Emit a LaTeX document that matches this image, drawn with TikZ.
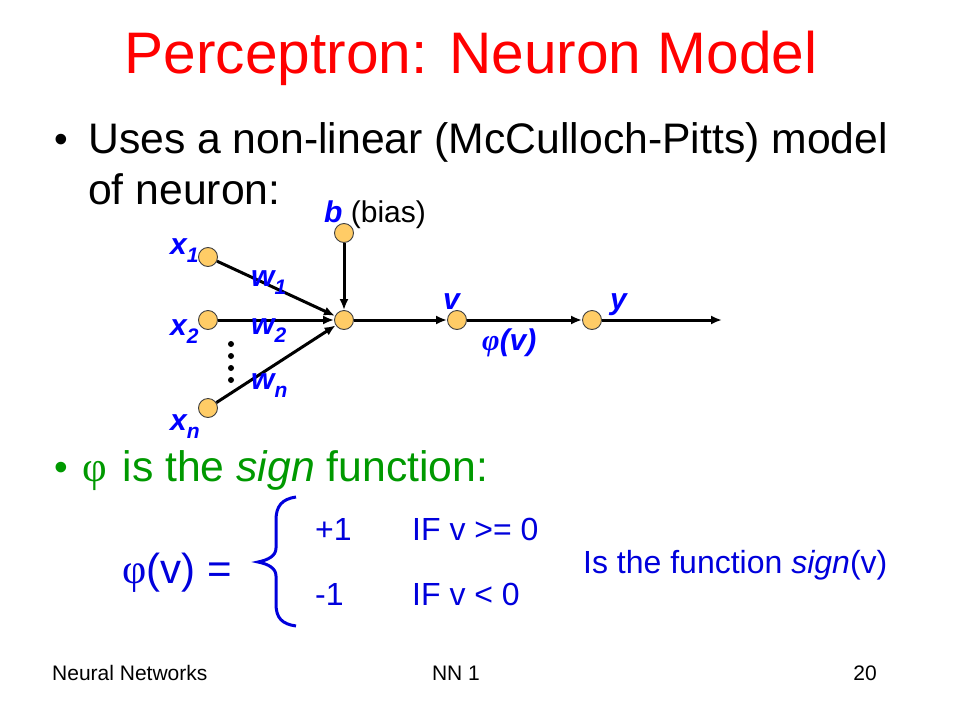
\documentclass[tikz,border=0pt]{standalone}
\usepackage{fontspec}
\setmainfont{Liberation Sans}
\newfontfamily\greekfont{Liberation Serif}
\usetikzlibrary{arrows.meta}
\definecolor{titlered}{RGB}{255,0,0}
\definecolor{bulletgreen}{RGB}{0,153,0}
\definecolor{labblue}{RGB}{0,0,255}
\definecolor{formblue}{RGB}{0,0,220}
\definecolor{unitfill}{RGB}{255,204,102}
\newcommand\sublab[2]{#1\raisebox{-8pt}{\fontsize{21}{21}\selectfont #2}}
\tikzset{
  unit/.style={circle, draw=black!75, line width=0.9pt, fill=unitfill, minimum size=19pt, inner sep=0pt},
  link/.style={line width=3pt, -{Latex[length=11pt,width=9pt]}},
  lab/.style={text=labblue, font=\fontsize{30}{30}\selectfont\bfseries\itshape, anchor=base west, inner sep=0pt},
  body/.style={font=\fontsize{42.7}{44}\selectfont, anchor=base west, inner sep=0pt},
  bul/.style={font=\fontsize{39}{39}\selectfont, anchor=base west, inner sep=0pt},
  formula/.style={text=formblue, font=\fontsize{32}{32}\selectfont, anchor=base west, inner sep=0pt},
  foot/.style={font=\fontsize{21}{21}\selectfont, anchor=base west, inner sep=0pt}
}
\begin{document}
\begin{tikzpicture}[x=1pt,y=-1pt]
  \fill[white] (0,0) rectangle (960,720);
  \useasboundingbox (0,0) rectangle (960,720);

  % title
  \node[anchor=base, text=titlered, font=\fontsize{58.6}{60}\selectfont, inner sep=0pt] (title) at (471,73) {Perceptron: Neuron Model};

  % first bullet
  \node[bul] (dot1) at (54,152) {•};
  \node[body] (line1) at (88,153) {Uses a non-linear (McCulloch-Pitts) model};
  \node[body] (line2) at (88,204) {of neuron:};

  % neuron units
  \node[unit] (b) at (344,233) {};
  \node[unit] (x1) at (208,257) {};
  \node[unit] (x2) at (208,320) {};
  \node[unit] (xn) at (208,408) {};
  \node[unit] (sum) at (344,320) {};
  \node[unit] (v) at (457,320) {};
  \node[unit] (y) at (592,320) {};
  \coordinate (out) at (722,320);

  \draw[link] (x1) -- (sum);
  \draw[link] (x2) -- (sum);
  \draw[link] (xn) -- (sum);
  \draw[link] (b) -- (sum);
  \draw[link] (sum) -- (v);
  \draw[link] (v) -- (y);
  \draw[link] (y) -- (out);

  \foreach \k in {344,356,368,380}
    \fill (231,\k) circle (3);

  % labels
  \node[lab] (lb) at (324,222) {b {\color{black}\mdseries\upshape (bias)}};
  \node[lab] (lx1) at (170,254) {\sublab{x}{1}};
  \node[lab] (lx2) at (170,335) {\sublab{x}{2}};
  \node[lab] (lxn) at (170,430) {\sublab{x}{n}};
  \node[lab] (lw1) at (251,286) {\sublab{w}{1}};
  \node[lab] (lw2) at (251,334) {\sublab{w}{2}};
  \node[lab] (lwn) at (251,389) {\sublab{w}{n}};
  \node[lab] (lv) at (443,309) {v};
  \node[lab] (ly) at (610,309) {y};
  \node[lab] (lphi) at (482,350) {{\greekfont φ}(v)};

  % second bullet
  \node[bul, text=bulletgreen] (dot2) at (54,480) {•};
  \node[body, text=bulletgreen] (line3) at (82,481) {{\greekfont φ}\hspace{4pt} is the \textit{sign} function:};

  % sign function
  \node[formula, font=\fontsize{42}{42}\selectfont] (phiv) at (122,583) {{\greekfont φ}(v) =};
  \draw[formblue, line width=3pt] (296,497) .. controls (282,499) and (276,506) .. (276,520) -- (276,548)
    .. controls (276,556) and (268,560) .. (258,562) .. controls (268,564) and (276,568) .. (276,576)
    -- (276,604) .. controls (276,618) and (282,624) .. (296,626);
  \node[formula] (plus) at (315,540) {+1};
  \node[formula] (ifpos) at (412,540) {IF v >= 0};
  \node[formula] (minus) at (315,605) {-1};
  \node[formula] (ifneg) at (412,605) {IF v < 0};
  \node[formula] (note) at (583,573) {Is the function \textit{sign}(v)};

  % footer
  \node[foot] (f1) at (52,680) {Neural Networks};
  \node[foot, anchor=base] (f2) at (456,680) {NN 1};
  \node[foot, anchor=base east] (f3) at (877,680) {20};
\end{tikzpicture}
\end{document}
